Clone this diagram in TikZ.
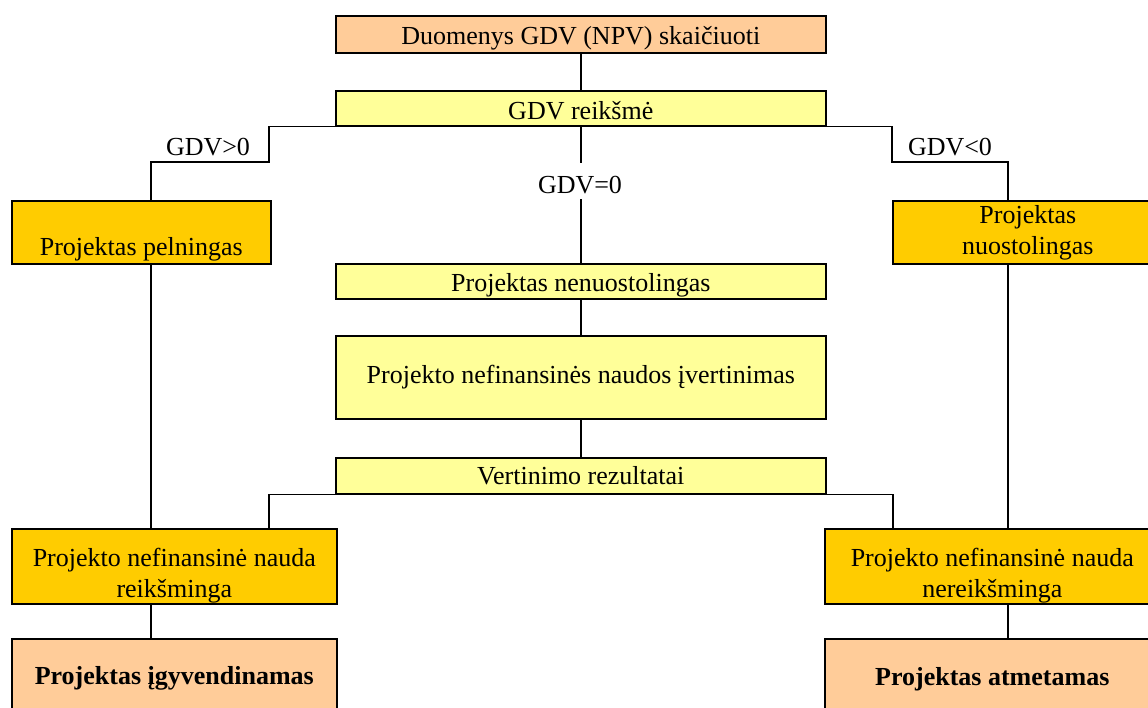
\documentclass[tikz,border=0pt]{standalone}
\usepackage{fontspec}
\setmainfont{Liberation Serif}
\usetikzlibrary{positioning}
\definecolor{persikas}{HTML}{FFCC99}
\definecolor{gelsva}{HTML}{FFFF99}
\definecolor{auksas}{HTML}{FFCC00}
\tikzset{
  blokas/.style={draw,thick,rectangle,anchor=north west,align=center,inner sep=0pt,
    font=\fontsize{13}{15.5}\selectfont},
  jungtis/.style={thick},
  salyga/.style={font=\fontsize{13}{15.5}\selectfont,inner sep=1pt}
}

\begin{document}
\begin{tikzpicture}[x=0.5pt,y=-0.5pt]

\useasboundingbox (0,0) rectangle (1148,708);
\clip (0,0) rectangle (1148,708);

% centrine kolona
\node[blokas,fill=persikas,minimum width=245pt,minimum height=18.5pt,text height=10.5pt,text depth=0pt] at (335,15) (duom) {Duomenys GDV (NPV) skaičiuoti};
\node[blokas,fill=gelsva,minimum width=245pt,minimum height=17.5pt,text height=11pt,text depth=0pt] at (335,90) (reiksme) {GDV reikšmė};
\node[blokas,fill=gelsva,minimum width=245pt,minimum height=17.5pt,text height=10pt,text depth=0pt] at (335,263) (nenuost) {Projektas nenuostolingas};
\node[blokas,fill=gelsva,minimum width=245pt,minimum height=41.5pt] at (335,335) (ivert) {Projekto nefinansinės naudos įvertinimas};
\node[blokas,fill=gelsva,minimum width=245pt,minimum height=18pt] at (335,457) (rezult) {Vertinimo rezultatai};

% sakos
\node[blokas,fill=auksas,minimum width=129.5pt,minimum height=31.5pt] at (11,200) (peln) {\strut\\Projektas pelningas};
\node[blokas,fill=auksas,minimum width=135pt,minimum height=31.5pt] at (892,200) (nuost) {Projektas\\nuostolingas};
\node[blokas,fill=auksas,minimum width=162.5pt,minimum height=37.5pt] at (11,528) (reiksm) {\rule{0pt}{18pt}Projekto nefinansinė nauda\\reikšminga};
\node[blokas,fill=auksas,minimum width=167.5pt,minimum height=37.5pt] at (824,528) (nereiksm) {\rule{0pt}{18pt}Projekto nefinansinė nauda\\nereikšminga};
\node[blokas,fill=persikas,minimum width=162.5pt,minimum height=40pt,font=\fontsize{13}{15.5}\selectfont\bfseries] at (11,638) (igyv) {Projektas įgyvendinamas};
\node[blokas,fill=persikas,minimum width=167.5pt,minimum height=40pt,font=\fontsize{13}{15.5}\selectfont\bfseries] at (824,638) (atmet) {Projektas atmetamas};

% salygos
\node[salyga] at (208,147) (teig) {GDV>0};
\node[salyga] at (950,147) (neig) {GDV<0};
\node[salyga] at (580,185) (nulis) {GDV=0};

\coordinate (kx) at (151,0);
\coordinate (dx) at (1008,0);
\coordinate (kl) at (269,162);
\coordinate (dl) at (892,162);
\coordinate (ka) at (269,493);
\coordinate (da) at (893,493);

\draw[jungtis] (duom.south) -- (reiksme.north);
\draw[jungtis] (reiksme.south west) -| (kl) -| (peln.north -| kx);
\draw[jungtis] (reiksme.south east) -| (dl) -| (nuost.north -| dx);
\draw[jungtis] (reiksme.south) -- (reiksme.south |- 0,163);
\draw[jungtis] (nenuost.north |- 0,199) -- (nenuost.north);
\draw[jungtis] (nenuost.south) -- (ivert.north);
\draw[jungtis] (ivert.south) -- (rezult.north);
\draw[jungtis] (rezult.south west) -| (reiksm.north -| ka);
\draw[jungtis] (rezult.south east) -| (nereiksm.north -| da);
\draw[jungtis] (peln.south -| kx) -- (reiksm.north -| kx);
\draw[jungtis] (nuost.south -| dx) -- (nereiksm.north -| dx);
\draw[jungtis] (reiksm.south -| kx) -- (igyv.north -| kx);
\draw[jungtis] (nereiksm.south -| dx) -- (atmet.north -| dx);

\end{tikzpicture}
\end{document}
